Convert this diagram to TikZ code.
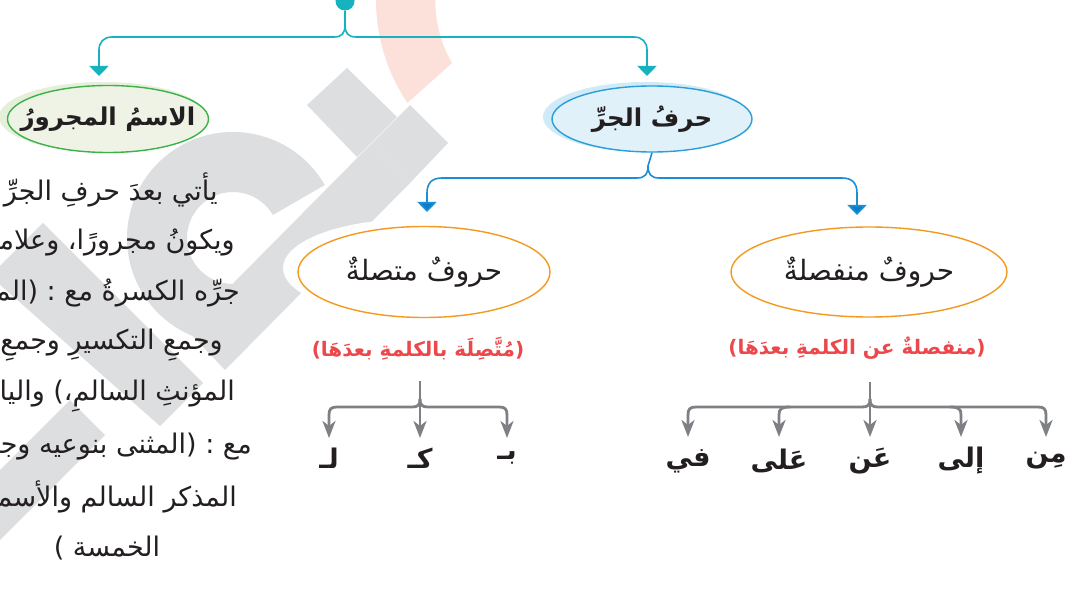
\documentclass[tikz,border=0pt]{standalone}
\usepackage{fontspec}
\usetikzlibrary{arrows.meta,shapes.geometric}
\newfontfamily\arfont[Script=Arabic]{DejaVu Sans}
\TeXXeTstate=1
\definecolor{tealc}{RGB}{22,178,189}
\definecolor{bluec}{RGB}{27,142,214}
\definecolor{bluetip}{RGB}{10,127,201}
\definecolor{greenc}{RGB}{59,179,74}
\definecolor{greenfill}{RGB}{238,243,229}
\definecolor{greenhalo}{RGB}{230,239,218}
\definecolor{blueedge}{RGB}{42,158,216}
\definecolor{bluefill}{RGB}{224,241,250}
\definecolor{bluehalo}{RGB}{208,234,247}
\definecolor{orangec}{RGB}{243,154,30}
\definecolor{redc}{RGB}{236,71,75}
\definecolor{grayc}{RGB}{127,128,131}
\definecolor{wmgray}{RGB}{221,222,224}
\definecolor{wmpink}{RGB}{252,225,218}
\definecolor{ink}{RGB}{35,31,32}
\begin{document}
\begin{tikzpicture}[x=1pt,y=-1pt,
  tl/.style={draw=tealc,line width=1.6pt,-{Triangle[width=19pt,length=10pt,fill=tealc]}},
  bl/.style={draw=bluec,line width=1.6pt,-{Triangle[width=19pt,length=10pt,fill=bluetip]}},
  gl/.style={draw=grayc,line width=2.8pt,-{Stealth[length=17pt,width=13pt,inset=5pt]}},
  oval/.style={ellipse,inner sep=0pt},
  title/.style={font=\arfont\bfseries\fontsize{24.5}{29}\selectfont,text=ink},
  sub/.style={font=\arfont\fontsize{28}{32}\selectfont,text=ink},
  redtxt/.style={font=\arfont\bfseries\fontsize{20}{24}\selectfont,text=redc},
  word/.style={font=\arfont\bfseries\fontsize{27}{31}\selectfont,text=ink},
  para/.style={font=\arfont\fontsize{27}{31}\selectfont,text=ink,inner sep=0pt}]
\clip (0,0) rectangle (1075,593);
\fill[white] (0,0) rectangle (1075,593);
% watermark
\fill[wmpink] (378.8,-32) arc[start angle=-170,end angle=-214,radius=184] -- (452,63) arc[start angle=-210,end angle=-170,radius=125] -- cycle;
\fill[wmgray] (324.8,185) arc[start angle=-30,end angle=-270,radius=106] -- (233,284) arc[start angle=-270,end angle=-30,radius=46] -- cycle;
\fill[wmgray] (307,105) -- (347,68) -- (397,117) -- (357,157) -- cycle;
\fill[wmgray] (410,105) -- (448,143) -- (410,183) -- (372,143) -- cycle;
\fill[wmgray] (372,143) -- (410,183) -- (225,370) -- (187,330) -- cycle;
\fill[wmgray] (43,223) -- (203,383) -- (160,426) -- (-10,276) -- cycle;
\fill[wmgray] (70,400) -- (105,435) -- (-10,550) -- (-10,480) -- cycle;
% halos
\fill[greenhalo] (103,117) ellipse[x radius=104,y radius=35];
\fill[bluehalo] (646,117) ellipse[x radius=103,y radius=35];
\fill[white] (414,268) ellipse[x radius=131,y radius=49];
% ovals
\node[oval,draw=greenc,line width=1.4pt,fill=greenfill,minimum width=201pt,minimum height=67pt] (ism) at (108,119) {};
\node[title] at (ism) {\beginR الاسمُ المجرورُ\endR};
\node[oval,draw=blueedge,line width=1.4pt,fill=bluefill,minimum width=200pt,minimum height=66pt] (jar) at (652,119) {};
\node[title] at (jar) {\beginR حرفُ الجرِّ\endR};
\node[oval,draw=orangec,line width=1.4pt,fill=white,minimum width=252pt,minimum height=91pt] (mutt) at (424,272) {};
\node[sub] at (mutt) {\beginR حروفٌ متصلةٌ\endR};
\node[oval,draw=orangec,line width=1.4pt,fill=white,minimum width=276pt,minimum height=90pt] (munf) at (869,272) {};
\node[sub] at (munf) {\beginR حروفٌ منفصلةٌ\endR};
\node[redtxt] (rl) at (418,349) {)\beginR مُتَّصِلَة بالكلمةِ بعدَهَا\endR(};
\node[redtxt] (rr) at (857,348) {)\beginR منفصلةٌ عن الكلمةِ بعدَهَا\endR(};
% top connectors
\node[circle,fill=tealc,minimum size=19pt,inner sep=0pt] (dot) at (345,1) {};
\coordinate (t0) at (345,25);
\coordinate (ta) at (99,76);
\coordinate (tb) at (647,76);
\draw[tl] (dot.south) -- (t0) .. controls (345,33) and (342,37) .. (334,37) -- (112,37) .. controls (104,37) and (99,42) .. (99,50) -- (ta);
\draw[tl] (t0) .. controls (345,33) and (348,37) .. (356,37) -- (634,37) .. controls (642,37) and (647,42) .. (647,50) -- (tb);
\coordinate (b0) at (648,166);
\coordinate (tc) at (427,212);
\coordinate (td) at (857,215);
\draw[bl] (jar.south) -- (b0) .. controls (648,174) and (645,178) .. (637,178) -- (442,178) .. controls (432,178) and (427,183) .. (427,193) -- (tc);
\draw[bl] (b0) .. controls (648,174) and (651,178) .. (659,178) -- (842,178) .. controls (852,178) and (857,183) .. (857,193) -- (td);
% left tree
\coordinate (s1) at (420,381);
\coordinate (j1) at (420,399);
\node[word] (lam) at (329,458) {\beginR لـ\endR};
\node[word] (kaf) at (420,458) {\beginR كـ\endR};
\node[word] (ba) at (507,458) {\beginR بـ\endR};
\coordinate (p1) at (329,438);
\coordinate (p2) at (420,438);
\coordinate (p3) at (507,438);
\draw[gl] (s1) -- (p2);
\draw[gl] (j1) .. controls (420,405) and (418,407) .. (412,407) -- (337,407) .. controls (331,407) and (329,409) .. (329,415) -- (p1);
\draw[gl] (j1) .. controls (420,405) and (422,407) .. (428,407) -- (499,407) .. controls (505,407) and (507,409) .. (507,415) -- (p3);
% right tree
\coordinate (s2) at (870,382);
\coordinate (j2) at (870,399);
\node[word] (fi) at (688,461) {\beginR في\endR};
\node[word] (ala) at (779,461) {\beginR عَلى\endR};
\node[word] (an) at (870,461) {\beginR عَن\endR};
\node[word] (ila) at (961,461) {\beginR إلى\endR};
\node[word] (min) at (1046,461) {\beginR مِن\endR};
\coordinate (q1) at (688,437);
\coordinate (q2) at (779,437);
\coordinate (q3) at (870,437);
\coordinate (q4) at (961,437);
\coordinate (q5) at (1046,437);
\draw[gl] (s2) -- (q3);
\draw[gl] (j2) .. controls (870,405) and (868,407) .. (862,407) -- (696,407) .. controls (690,407) and (688,409) .. (688,415) -- (q1);
\draw[gl] (j2) .. controls (870,405) and (872,407) .. (878,407) -- (1038,407) .. controls (1044,407) and (1046,409) .. (1046,415) -- (q5);
\draw[gl] (790,407) .. controls (781,407) and (779,409) .. (779,415) -- (q2);
\draw[gl] (950,407) .. controls (959,407) and (961,409) .. (961,415) -- (q4);
% paragraph
\node[para,anchor=east] (l1) at (218,190) {\beginR يأتي بعدَ حرفِ الجرِّ\endR};
\node[para,anchor=east] (l2) at (235,242) {\beginR ويكونُ مجرورًا، وعلامةُ\endR};
\node[para,anchor=east] (l3) at (240,293) {\beginR المفردِ\endR( \beginR جرِّه الكسرةُ مع :\endR};
\node[para,anchor=east] (l4) at (223,345) {\beginR وجمعِ التكسيرِ وجمعِ\endR};
\node[para,anchor=east] (l5) at (235,395) {\beginR والياءُ\endR{} ،)\beginR المؤنثِ السالمِ\endR};
\node[para,anchor=east] (l6) at (252,447) {\beginR المثنى بنوعيه وجمع\endR( \beginR مع :\endR};
\node[para,anchor=east] (l7) at (237,497) {\beginR المذكر السالم والأسماء\endR};
\node[para] (l8) at (107,548) {) \beginR الخمسة\endR};
\end{tikzpicture}
\end{document}
